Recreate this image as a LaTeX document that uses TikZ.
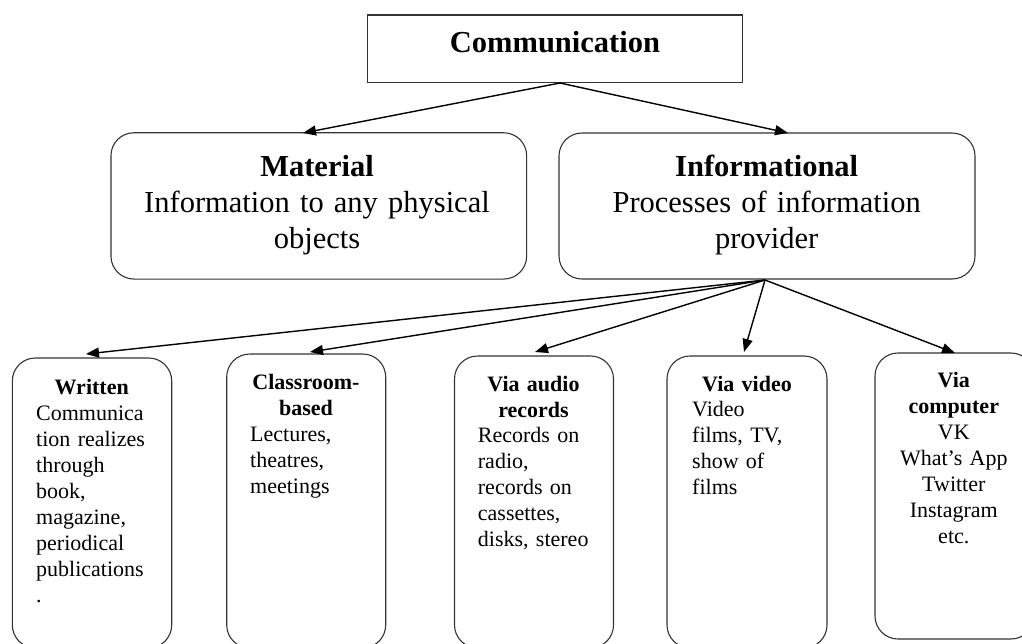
\documentclass[tikz,border=0pt]{standalone}
\usepackage{fontspec}
\setmainfont{Liberation Serif}
\usetikzlibrary{arrows.meta}
\tikzset{
  box/.style={draw=black!80, line width=1.1pt, inner sep=0pt},
  rbox/.style={box, rounded corners=23pt},
  conn/.style={line width=1.4pt, -{Triangle[length=13pt,width=10pt]}},
  big/.style={font=\fontsize{30.5}{36}\selectfont, inner sep=0pt, anchor=base, align=center, text width=400pt},
  small/.style={font=\fontsize{22}{26}\selectfont, inner sep=0pt},
  head/.style={small, anchor=base, align=center, text width=150pt},
  body/.style={small, anchor=base west, align=left, text width=150pt},
}
\begin{document}
\begin{tikzpicture}[x=1pt,y=-1pt]
\useasboundingbox (0,0) rectangle (1022,643);
\clip (0,0) rectangle (1022,643);
% boxes
\node[box, minimum width=375pt, minimum height=67.7pt] (comm) at (555.2,48.8) {};
\node[rbox, minimum width=415.7pt, minimum height=146.3pt] (mat) at (318.8,205.9) {};
\node[rbox, minimum width=416pt, minimum height=146pt] (inf) at (767,206) {};
\node[rbox, minimum width=159.4pt, minimum height=290pt] (wr) at (92,503) {};
\node[rbox, minimum width=159pt, minimum height=294pt] (cl) at (306.2,501) {};
\node[rbox, minimum width=159pt, minimum height=292pt] (au) at (534,502) {};
\node[rbox, minimum width=160pt, minimum height=292pt] (vi) at (747,502) {};
\node[rbox, minimum width=159pt, minimum height=286pt] (co) at (954.5,496) {};
% texts
\node[big] (commT) at (555,52.3) {\textbf{Communication}};
\node[big] (matT) at (317,176) {\textbf{Material}\\Information to any physical\\objects};
\node[big] (infT) at (766.7,176) {\textbf{Informational}\\Processes of information\\provider};
\node[head] (wrH) at (91.7,394) {\textbf{Written}};
\node[body] (wrB) at (36,420) {Communica\\tion realizes\\through\\book,\\magazine,\\periodical\\publications\\.};
\node[head] (clH) at (306,389) {\textbf{Classroom-}\\\textbf{based}};
\node[body] (clB) at (250,441) {Lectures,\\theatres,\\meetings};
\node[head] (auH) at (533.5,391.7) {\textbf{Via audio}\\\textbf{records}};
\node[body] (auB) at (477.7,442.7) {Records on\\radio,\\records on\\cassettes,\\disks, stereo};
\node[head] (viH) at (747,391.7) {\textbf{Via video}};
\node[body] (viB) at (692,416.7) {Video\\films, TV,\\show of\\films};
\node[head] (coT) at (953.8,387) {\textbf{Via}\\\textbf{computer}\\VK\\What’s App\\Twitter\\Instagram\\etc.};
% connector end points
\coordinate (commOut) at (560,83);
\coordinate (matIn) at (303,133);
\coordinate (infIn) at (788,133);
\coordinate (infOut) at (765,280);
\coordinate (wrIn) at (86,354);
\coordinate (clIn) at (310,352);
\coordinate (auIn) at (535,352);
\coordinate (viIn) at (744,352);
\coordinate (coIn) at (955,353);
% connectors
\draw[conn] (commOut) -- (matIn);
\draw[conn] (commOut) -- (infIn);
\draw[conn] (infOut) -- (wrIn);
\draw[conn] (infOut) -- (clIn);
\draw[conn] (infOut) -- (auIn);
\draw[conn] (infOut) -- (viIn);
\draw[conn] (infOut) -- (coIn);
\end{tikzpicture}
\end{document}
